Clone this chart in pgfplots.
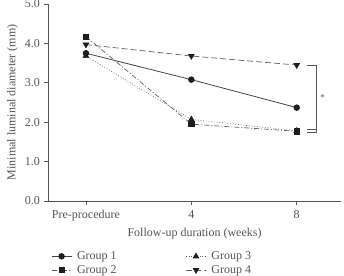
\documentclass[border=0pt]{standalone}
\usepackage{pgfplots}
\pgfplotsset{compat=1.18}
\usepackage{fontspec}
\setmainfont{Liberation Serif}
\definecolor{axisgray}{HTML}{555555}
\definecolor{linegray}{HTML}{444444}
\definecolor{markblack}{HTML}{1E1E1E}

\begin{document}
\fontsize{11.8}{14}\selectfont
\begin{tikzpicture}[x=1pt,y=1pt]
\begin{axis}[
  name=main,
  scale only axis,
  width=293pt, height=197pt,
  xmin=-0.36, xmax=2.42,
  ymin=0, ymax=5,
  axis lines=left,
  axis line style={axisgray, line width=0.6pt, -},
  xtick={0,1,2},
  xticklabels={Pre-procedure,4,8},
  ytick={0,1,2,3,4,5},
  yticklabel={\pgfmathprintnumber[fixed,fixed zerofill,precision=1]{\tick}},
  /pgf/number format/assume math mode=true,
  tick style={axisgray, line width=0.6pt},
  tick align=outside,
  major tick length=4pt,
  ticklabel style={text=axisgray, font=\fontsize{12}{14}\selectfont},
  label style={text=axisgray, font=\fontsize{12}{14}\selectfont},
  xlabel={Follow-up duration (weeks)},
  ylabel={Minimal luminal diameter (mm)},
  xlabel style={at={(axis description cs:0.5,0)}, yshift=-23pt, anchor=north},
  ylabel style={at={(axis description cs:0,0.5)}, yshift=26pt},
  x tick label style={yshift=-1pt},
  legend columns=2,
  legend cell align=left,
  legend style={
    draw=none, fill=none,
    at={(axis description cs:0,-0.235)}, anchor=north west,
    font=\fontsize{12}{14}\selectfont, text=axisgray,
    row sep=0pt,
    nodes={inner xsep=5pt},
    /tikz/every even column/.append style={column sep=64pt},
  },
  legend image code/.code={
    \draw[mark repeat=2,mark phase=2,#1] plot coordinates {(0pt,0pt) (10pt,0pt) (20pt,0pt)};
  },
]
% Group 1: solid, circles
\addplot[linegray, line width=0.8pt, mark=*, mark size=2.8pt,
  mark options={solid, fill=markblack, draw=markblack}]
  coordinates {(0,3.75) (1,3.08) (2,2.37)};
\addlegendentry{Group 1}
% Group 3: dotted, triangles
\addplot[linegray!85, line width=0.7pt, dotted, mark=triangle*, mark size=3.2pt,
  mark options={solid, fill=markblack, draw=markblack}]
  coordinates {(0,3.68) (1,2.07) (2,1.78)};
\addlegendentry{Group 3}
% Group 2: dash-dot, squares
\addplot[linegray!85, line width=0.7pt, dash pattern=on 5pt off 2pt on 1pt off 2pt, mark=square*, mark size=2.6pt,
  mark options={solid, fill=markblack, draw=markblack}]
  coordinates {(0,4.17) (1,1.95) (2,1.77)};
\addlegendentry{Group 2}
% Group 4: dashed, inverted triangles
\addplot[linegray!85, line width=0.7pt, dash pattern=on 6pt off 3pt, mark=triangle*, mark size=3.2pt,
  mark options={solid, rotate=180, fill=markblack, draw=markblack}]
  coordinates {(0,3.97) (1,3.68) (2,3.45)};
\addlegendentry{Group 4}
% significance bracket between groups at week 8
\draw[axisgray, line width=0.6pt] (axis cs:2.095,3.45) -- (axis cs:2.19,3.45) -- (axis cs:2.19,1.74) -- (axis cs:2.10,1.74);
\draw[axisgray, line width=0.6pt] (axis cs:2.10,1.81) -- (axis cs:2.19,1.81);
\node[text=axisgray, font=\fontsize{9}{10}\selectfont] at (axis cs:2.245,2.62) {*};
\end{axis}
\pgfresetboundingbox
\path[use as bounding box] (-48,-74) rectangle (296,201);
\end{tikzpicture}
\end{document}
